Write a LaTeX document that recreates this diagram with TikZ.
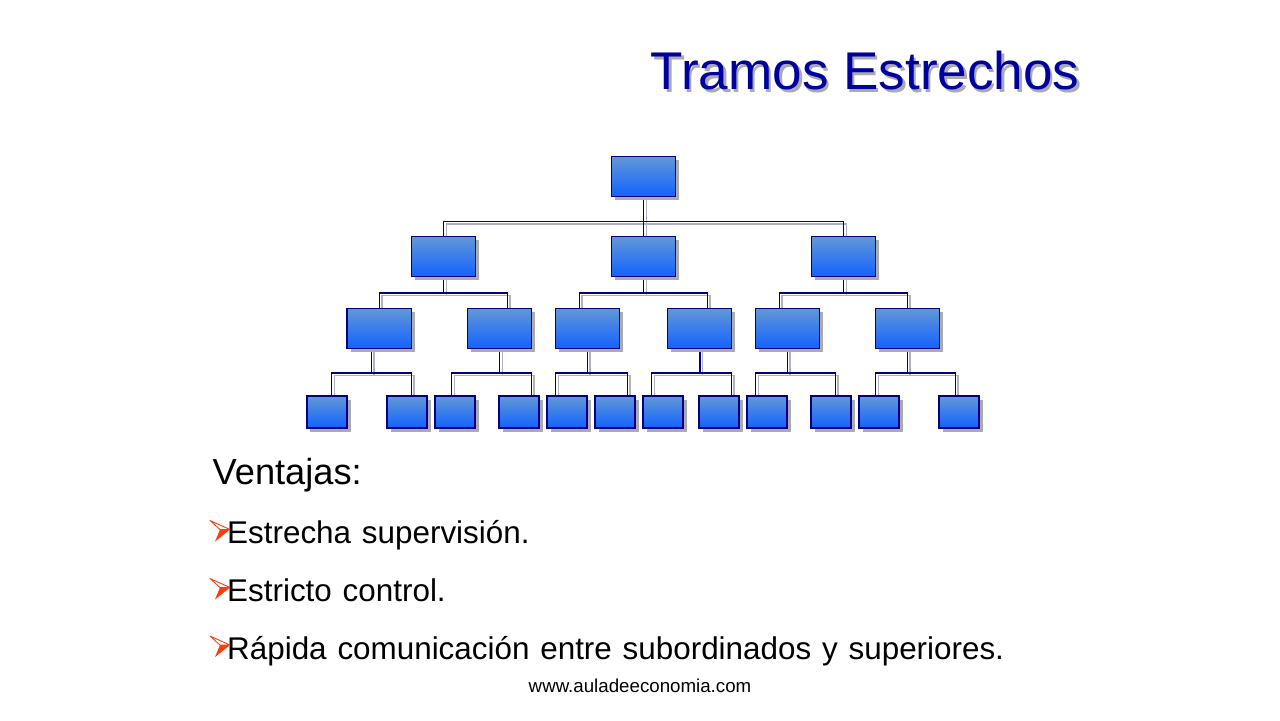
\documentclass[tikz,border=0pt]{standalone}
\usepackage{fontspec}
\setmainfont{Liberation Sans}
\usetikzlibrary{shadows,backgrounds}

\definecolor{navyline}{RGB}{0,0,128}
\definecolor{lineshade}{RGB}{176,176,190}
\definecolor{boxtop}{RGB}{98,152,214}
\definecolor{boxbottom}{RGB}{18,98,255}
\definecolor{boxshade}{RGB}{170,170,175}
\definecolor{titleblue}{RGB}{0,0,160}
\definecolor{bulletred}{RGB}{255,60,10}

\pgfdeclarelayer{paper}
\pgfsetlayers{paper,background,main}

\tikzset{
	unit/.style={draw=navyline, line width=0.45pt, top color=boxtop, bottom color=boxbottom, inner sep=0pt,
		drop shadow={shadow xshift=0.035cm, shadow yshift=-0.035cm, fill=boxshade, opacity=1}},
	big/.style={unit, minimum width=0.64cm, minimum height=0.40cm},
	small/.style={unit, minimum width=0.40cm, minimum height=0.32cm},
	texto/.style={anchor=base west, inner sep=0pt}
}

\begin{document}
\begin{tikzpicture}[x=0.01cm, y=-0.01cm]

		\useasboundingbox (0,0) rectangle (1280,720);
		\begin{pgfonlayer}{paper}
			\fill[white] (0,0) rectangle (1280,720);
		\end{pgfonlayer}

		% title
		\node(titulo-sombra)[texto, text=boxshade, font=\fontsize{15.1}{16}\selectfont] at (652.5,92) {Tramos Estrechos};
		\node(titulo)[texto, text=titleblue, font=\fontsize{15.1}{16}\selectfont] at (650,89.5) {Tramos Estrechos};

		% chart
		\node(dir)[big] at (643.5,176.5) {};
		\node(ger-1)[big] at (443.5,256.5) {};
		\node(ger-2)[big] at (643.5,256.5) {};
		\node(ger-3)[big] at (843.5,256.5) {};

		\foreach \n/\x in {1/379.3, 2/499.5, 3/587.3, 4/699.5, 5/787.3, 6/907.3}
			\node(sup-\n)[big] at (\x,328.5) {};

		\foreach \n/\x in {1/327, 2/407, 3/455, 4/519, 5/567, 6/615, 7/663, 8/719, 9/767, 10/831, 11/879, 12/959}
			\node(emp-\n)[small] at (\x,412) {};

		\begin{scope}[on background layer]
		\foreach \col/\sh in {lineshade/0.027cm, navyline/0cm}{
			\begin{scope}[transform canvas={xshift=\sh, yshift=-\sh}, color=\col, line width=0.4pt]
				\foreach \c in {ger-1, ger-2, ger-3}
					\draw (dir.south) -- ++(0,24) -| (\c.north);
				\foreach \p/\c/\cx in {ger-1/sup-1/0, ger-1/sup-2/0.078, ger-2/sup-3/-0.08,
						ger-2/sup-4/0.078, ger-3/sup-5/-0.08, ger-3/sup-6/0}
					\draw (\p.south) -- ++(0,15.6) -| ([xshift=\cx cm]\c.north);
				\foreach \p/\px/\c/\cx in {sup-1/-0.08/emp-1/0.047, sup-1/-0.08/emp-2/0.043,
						sup-2/0/emp-3/-0.033, sup-2/0/emp-4/0.123,
						sup-3/0/emp-5/-0.113, sup-3/0/emp-6/0.123,
						sup-4/0.005/emp-7/-0.113, sup-4/0.005/emp-8/0.123,
						sup-5/0/emp-9/-0.113, sup-5/0/emp-10/0.043,
						sup-6/0/emp-11/-0.033, sup-6/0/emp-12/-0.037}
					\draw ([xshift=\px cm]\p.south) -- ++(0,23.6) -| ([xshift=\cx cm]\c.north);
			\end{scope}
		}
		\end{scope}

		% list
		\node(ventajas)[texto, font=\fontsize{10.3}{12}\selectfont] at (212,484) {Ventajas:};

		\foreach \n/\y/\t in {1/543.5/Estrecha supervisión., 2/601.5/Estricto control.,
				3/659/Rápida comunicación entre subordinados y superiores.}{
			\node(punto-\n)[texto, font=\fontsize{8.93}{10}\selectfont] at (226.5,\y) {\spaceskip=0.345em\relax\t};
			\filldraw[fill=white, draw=bulletred, line width=0.25pt, line join=round]
				(230,\y-14) -- (210,\y-23) -- (220,\y-14) -- cycle;
			\fill[bulletred] (230,\y-14) -- (220,\y-14) -- (215,\y-2) -- cycle;
		}

		\node(web)[anchor=base, inner sep=0pt, font=\fontsize{5.32}{6}\selectfont] at (640,692) {www.auladeeconomia.com};

	\end{tikzpicture}
\end{document}
